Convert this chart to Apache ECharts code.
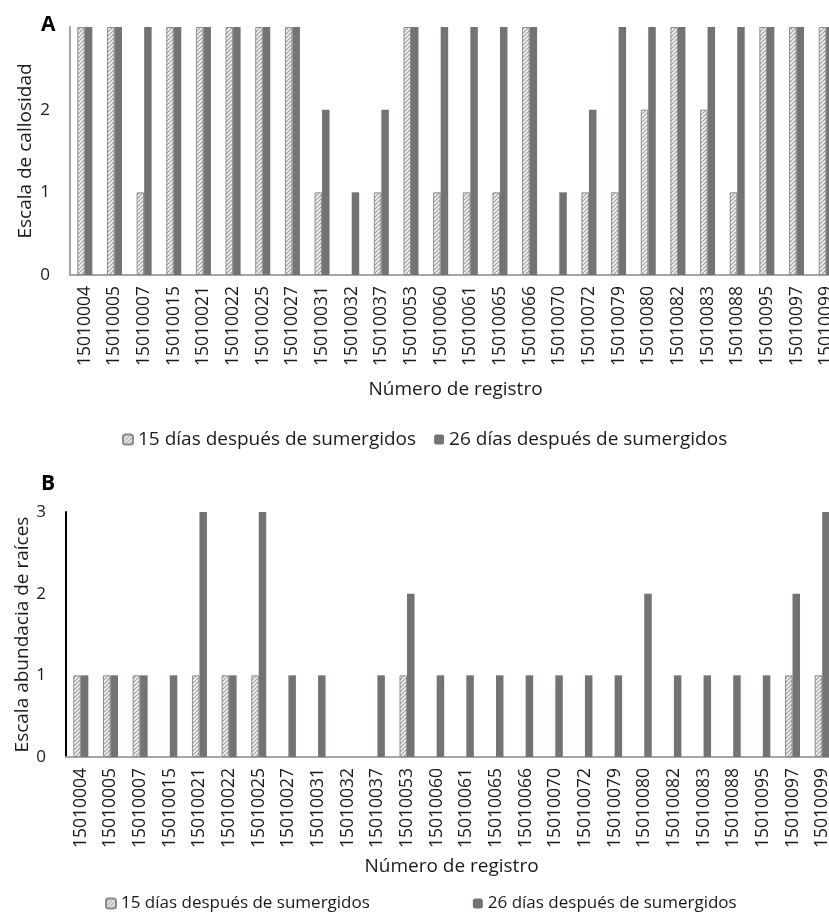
<!DOCTYPE html>
<html>
<head>
<meta charset="utf-8">
<script src="https://cdn.jsdelivr.net/npm/echarts@6/dist/echarts.min.js"></script>
<style>
html,body{margin:0;padding:0;background:#fff;}
#c{width:829px;height:915px;}
</style>
</head>
<body>
<div id="c"></div>
<script>
var categories = ['15010004','15010005','15010007','15010015','15010021','15010022','15010025','15010027','15010031','15010032','15010037','15010053','15010060','15010061','15010065','15010066','15010070','15010072','15010079','15010080','15010082','15010083','15010088','15010095','15010097','15010099'];
var seriesNames = ['15 días después de sumergidos','26 días después de sumergidos'];
var callos15 = [3,3,1,3,3,3,3,3,1,0,1,3,1,1,1,3,0,1,1,2,3,2,1,3,3,3];
var callos26 = [3,3,3,3,3,3,3,3,2,1,2,3,3,3,3,3,1,2,3,3,3,3,3,3,3,3];
var raices15 = [1,1,1,0,1,1,1,0,0,0,0,1,0,0,0,0,0,0,0,0,0,0,0,0,1,1];
var raices26 = [1,1,1,1,3,1,3,1,1,0,1,2,1,1,1,1,1,1,1,2,1,1,1,1,2,3];
var yTicks = [0,1,2,3];

var cv = document.createElement('canvas');
cv.width = 4; cv.height = 4;
var ctx = cv.getContext('2d');
ctx.fillStyle = '#ffffff'; ctx.fillRect(0,0,4,4);
ctx.strokeStyle = '#a3a3a3'; ctx.lineWidth = 1.3;
ctx.beginPath();
ctx.moveTo(-1,5); ctx.lineTo(5,-1);
ctx.moveTo(-1,1); ctx.lineTo(1,-1);
ctx.moveTo(3,5); ctx.lineTo(5,3);
ctx.stroke();
var hatch = {image: cv, repeat: 'repeat'};
var dark = '#767273';
var txt = '#1a1a1a';
var font = 'Open Sans';

function xAxis(gi, gap){
  return {
    type:'category', gridIndex:gi, data:categories,
    axisTick:{show:false},
    axisLine:{show:true, lineStyle:{color:'#a6a6a6', width:2}},
    axisLabel:{rotate:90, interval:0, fontFamily:font, fontSize:17.5, color:txt, margin:11},
    name:'Número de registro', nameLocation:'middle', nameGap:gap, nameMoveOverlap:false,
    nameTextStyle:{fontFamily:font, fontSize:19, color:txt}
  };
}
function yAxis(gi, name, gap, lineColor, hideTop){
  return {
    type:'value', gridIndex:gi, min:0, max:3, interval:1,
    splitLine:{show:false}, axisTick:{show:false},
    axisLine:{show:true, lineStyle:{color:lineColor, width:2}},
    axisLabel:{fontFamily:font, fontSize:17, color:txt, margin:20,
      formatter:function(v){ return (hideTop && v===yTicks[yTicks.length-1]) ? '' : String(v); }},
    name:name, nameLocation:'middle', nameGap:gap, nameMoveOverlap:false,
    nameTextStyle:{fontFamily:font, fontSize:19, color:txt}
  };
}
function bars(name, data, gi, isHatch){
  var d = data.map(function(v){
    return (isHatch && v === 0) ? {value:v, itemStyle:{borderWidth:0}} : v;
  });
  return {
    type:'bar', name:name, xAxisIndex:gi, yAxisIndex:gi, data:d,
    barWidth:7.5, barGap:'0%',
    itemStyle: isHatch ? {color:hatch, borderColor:'#8c8c8c', borderWidth:1} : {color:dark},
    emphasis:{disabled:true}, animation:false
  };
}
var chart = echarts.init(document.getElementById('c'), null, {renderer:'canvas'});
chart.setOption({
  animation:false,
  backgroundColor:'#fff',
  title:[
    {text:'A', left:36, top:10, textStyle:{fontFamily:font, fontWeight:'bold', fontSize:21, color:'#000'}},
    {text:'B', left:36, top:469, textStyle:{fontFamily:font, fontWeight:'bold', fontSize:21, color:'#000'}}
  ],
  grid:[
    {left:70, width:771, top:27, height:248, outerBoundsMode:'none', containLabel:false},
    {left:66, width:771, top:512, height:245, outerBoundsMode:'none', containLabel:false}
  ],
  xAxis:[xAxis(0,105), xAxis(1,100)],
  yAxis:[yAxis(0,'Escala de callosidad',35,'#a6a6a6',true), yAxis(1,'Escala abundacia de raíces',34,'#000',false)],
  legend:[
    {data:seriesNames, top:425, left:117, itemWidth:10, itemHeight:10, itemGap:18,
     textStyle:{fontFamily:font, fontSize:19, color:txt}, selectedMode:false},
    {data:seriesNames, top:890, left:100, itemWidth:10, itemHeight:10, itemGap:103,
     textStyle:{fontFamily:font, fontSize:17, color:txt}, selectedMode:false}
  ],
  series:[
    bars(seriesNames[0], callos15, 0, true),
    bars(seriesNames[1], callos26, 0, false),
    bars(seriesNames[0], raices15, 1, true),
    bars(seriesNames[1], raices26, 1, false)
  ]
});
</script>
</body>
</html>
